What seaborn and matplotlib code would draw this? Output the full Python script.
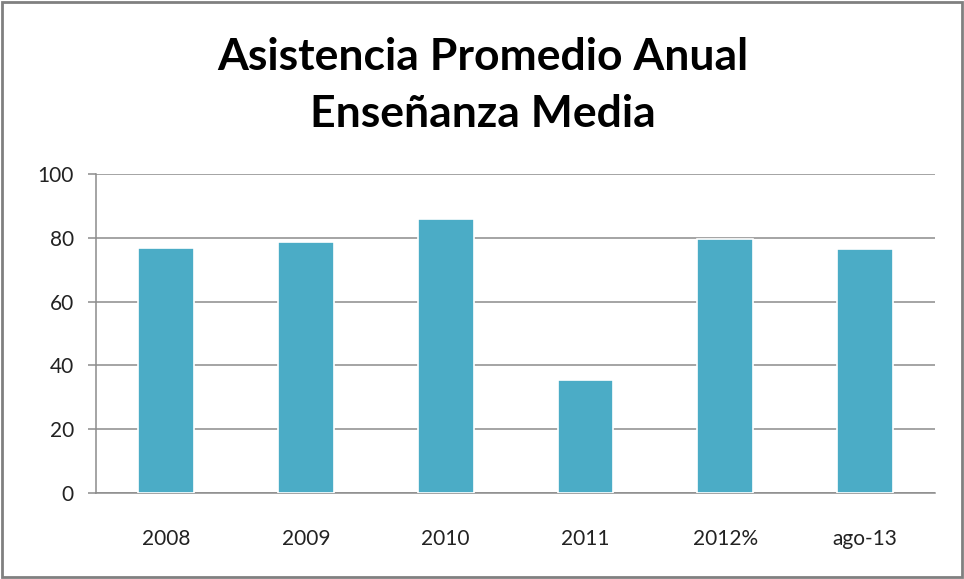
import matplotlib
matplotlib.use("Agg")
import matplotlib.pyplot as plt
import matplotlib.patches as mpatches
import matplotlib.patheffects as pe
import seaborn as sns
import pandas as pd

categories = ["2008", "2009", "2010", "2011", "2012%", "ago-13"]
values = [76.8, 78.8, 86.0, 35.5, 79.6, 76.4]
yticks = [0, 20, 40, 60, 80, 100]

sns.set_theme(style="white")
plt.rcParams["font.family"] = ["Lato", "DejaVu Sans"]

df = pd.DataFrame({"cat": categories, "val": values})

fig = plt.figure(figsize=(9.64, 5.79), dpi=100)
ax = fig.add_axes([0.0996, 0.1485, 0.8704, 0.551])

sns.barplot(data=df, x="cat", y="val", color="#4BACC6", saturation=1,
            width=0.4, edgecolor="white", linewidth=1.2, ax=ax, zorder=3)
for p in ax.patches:
    p.set_path_effects([pe.SimplePatchShadow(offset=(0, 0), shadow_rgbFace="#b0b0b0", alpha=0.5, rho=1), pe.Normal()])

ax.set_ylim(0, 100)
ax.set_xlim(-0.5, len(categories) - 0.5)
ax.set_yticks(yticks)
ax.set_yticklabels([str(t) for t in yticks], fontsize=15, color="#222222")
ax.set_xticklabels(categories, fontsize=15, color="#222222")
ax.set_xlabel("")
ax.set_ylabel("")
ax.yaxis.grid(True, color="#8c8c8c", linewidth=1.1, zorder=0)
ax.set_axisbelow(True)

ax.set_xticks([i - 0.5 for i in range(len(categories) + 1)], minor=True)
ax.tick_params(axis="x", which="major", length=0, pad=26)
ax.tick_params(axis="x", which="minor", length=6, color="#8c8c8c", width=1.1, direction="out")
ax.tick_params(axis="y", which="major", length=6, color="#8c8c8c", width=1.1, direction="out", pad=10, left=True)

for s in ["top", "right"]:
    ax.spines[s].set_visible(False)
for s in ["left", "bottom"]:
    ax.spines[s].set_color("#8c8c8c")
    ax.spines[s].set_linewidth(1.1)

fig.text(0.501, 0.902, "Asistencia Promedio Anual", ha="center", va="center",
         fontsize=32, fontweight="bold", color="black")
fig.text(0.501, 0.803, "Enseñanza Media", ha="center", va="center",
         fontsize=32, fontweight="bold", color="black")

fig.patches.append(mpatches.Rectangle((0.002, 0.003), 0.996, 0.994, transform=fig.transFigure,
                                      fill=False, edgecolor="#808080", linewidth=2))

fig.savefig("out.png", dpi=100)
